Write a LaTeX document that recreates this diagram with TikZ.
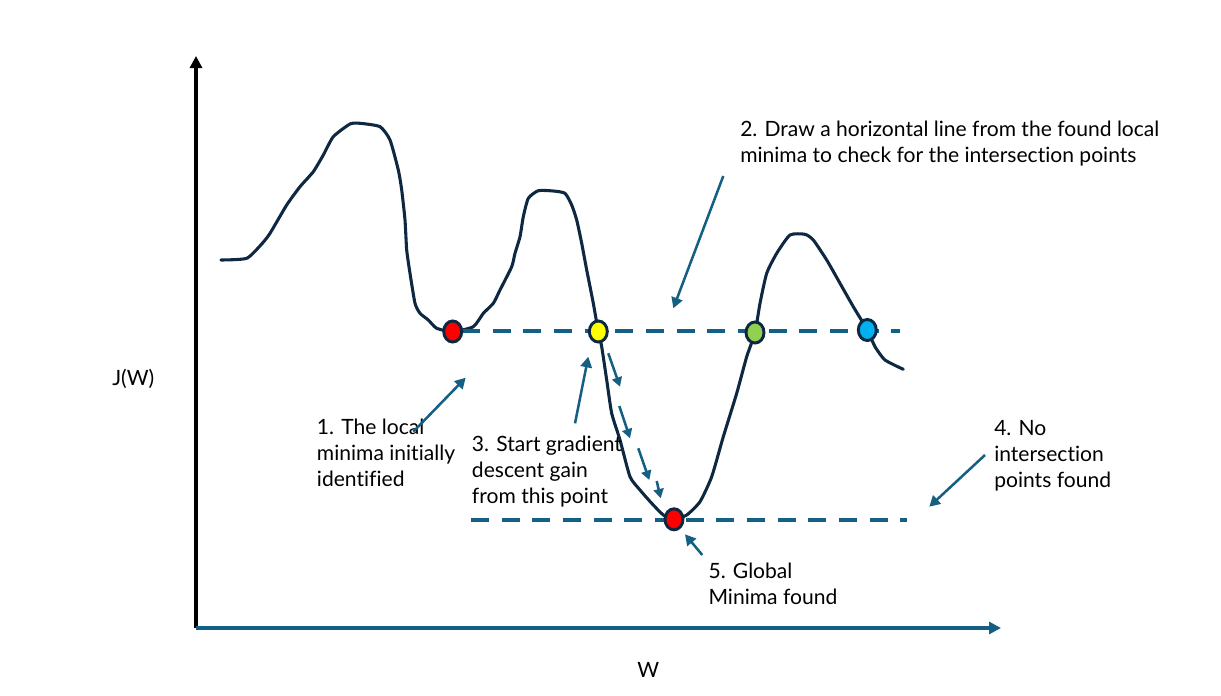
\documentclass[tikz,border=0pt]{standalone}
\usepackage{fontspec}
\setmainfont{Lato}[Ligatures=NoCommon]
\usetikzlibrary{arrows.meta,shapes.geometric}
\definecolor{curvec}{HTML}{0E2841}
\definecolor{acc}{HTML}{156082}
\definecolor{dotred}{HTML}{FF0000}
\definecolor{dotyellow}{HTML}{FFFF00}
\definecolor{dotgreen}{HTML}{92D050}
\definecolor{dotblue}{HTML}{00B0F0}
\begin{document}
\begin{tikzpicture}[x=0.75pt,y=-0.75pt,
  curveline/.style={curvec, line width=2.3pt, line cap=round, line join=round},
  dot/.style={ellipse, draw=curvec, line width=2.2pt, minimum width=13.5pt, minimum height=15.8pt, inner sep=0pt},
  levelline/.style={acc, line width=3pt, dash pattern=on 13.5pt off 9.5pt},
  pointer/.style={acc, line width=1.9pt, -{Triangle[length=8pt,width=8.5pt]}},
  gradarrow/.style={acc, line width=1.9pt, -{Triangle[length=7pt,width=7.5pt]}},
  lbl/.style={font=\fontsize{15.8}{19.3}\selectfont, align=left, anchor=base west, inner sep=0pt, text=black},
]
\useasboundingbox (0,0) rectangle (1221,696);

% axes
\coordinate (origin) at (196,628);
\coordinate (ytop) at (196,56);
\coordinate (xend) at (1001,628);
\draw[black, line width=2.3pt, -{Triangle[length=9pt,width=9pt]}] (origin) -- (ytop);
\draw[acc, line width=2.3pt, -{Triangle[length=9pt,width=9pt]}] (origin) -- (xend);

% curve
\draw[curveline] plot[smooth, tension=0.35] coordinates {
(221,260) (246.7,258.3) (261.7,244) (270,233.3) (286.7,205) (300,186.7) (313.3,171.7) (323.3,155) (333.3,136.7) (350,124) (360,123.3) (380,126.7) (390,140) (398.3,170) (401.7,190) (405,220) (406.7,250) (410,273.3) (415,303.3) (420,313.3) (428.3,320) (436.7,328.3) (452.7,331.7) (473.3,326.7) (483.3,313.3) (493.3,303.3) (500,290) (511.7,266.7) (515,253.3) (520,236.7) (523.3,216.7) (528.3,198.3) (538.3,190.7) (553.3,191) (565,193.3) (571.7,205) (576.7,220) (581.7,243.3) (586.7,270) (593.3,303.3) (598.3,331.7) (601.7,346.7) (606.7,380) (611.7,413.3) (620,440) (630,476.7) (640,490) (651.7,503.3) (663.3,515) (674,519.3) (686.7,515) (700,501.7) (711.7,476.7) (723.3,436.7) (736.7,393.3) (746.7,356.7) (755,332.7) (760,303.3) (766.7,273.3) (776.7,253.3) (790,235) (805,234.3) (813.3,240) (826.7,260) (840,283.3) (853.3,306.7) (867.3,330) (875,346.7) (885,360) (903.3,369.3)};

% level lines
\coordinate (l1a) at (462,331);
\coordinate (l1b) at (900,331);
\coordinate (l2a) at (471,520);
\coordinate (l2b) at (907,520);
\draw[levelline] (l1a) -- (l1b);
\draw[levelline] (l2a) -- (l2b);

% points
\node[dot, fill=dotred] (localmin) at (452.7,331.5) {};
\node[dot, fill=dotyellow] (start) at (598.3,331.5) {};
\node[dot, fill=dotgreen] (inter) at (755,332.5) {};
\node[dot, fill=dotblue] (inter2) at (867.3,330) {};
\node[dot, fill=dotred] (globalmin) at (674,519.3) {};

% gradient steps
\coordinate (g1a) at (608.3,353.3); \coordinate (g1b) at (620,386.7);
\coordinate (g2a) at (619.3,406);   \coordinate (g2b) at (630,438.3);
\coordinate (g3a) at (638.3,448.3); \coordinate (g3b) at (649.3,480);
\coordinate (g4a) at (656.7,481);   \coordinate (g4b) at (660.7,498.3);
\draw[gradarrow] (g1a) -- (g1b);
\draw[gradarrow] (g2a) -- (g2b);
\draw[gradarrow] (g3a) -- (g3b);
\draw[gradarrow] (g4a) -- (g4b);

% labels (base = baseline of last line)
\node[lbl] (ylabel) at (112,385) {J(W)};
\node[lbl] (xlabel) at (637,677) {W};
\node[lbl] (lab1) at (316.7,486) {1. The local\\minima initially\\identified};
\node[lbl] (lab2) at (740,162) {2. Draw a horizontal line from the found local\\minima to check for the intersection points};
\node[lbl] (lab3) at (471.7,503) {3. Start gradient\\descent gain\\from this point};
\node[lbl] (lab4) at (994,487) {4. No\\intersection\\points found};
\node[lbl] (lab5) at (708.3,604) {5. Global\\Minima found};

% label pointers
\coordinate (p1t) at (413.3,431.7); \coordinate (p1h) at (465.7,377.7);
\coordinate (p2t) at (723.3,176);   \coordinate (p2h) at (673.3,308.3);
\coordinate (p3t) at (575,423.3);   \coordinate (p3h) at (588.3,356.7);
\coordinate (p4t) at (985,455);     \coordinate (p4h) at (929.3,506.7);
\coordinate (p5t) at (702.3,555);   \coordinate (p5h) at (685,534.3);
\draw[pointer] (p1t) -- (p1h);
\draw[pointer] (p2t) -- (p2h);
\draw[pointer] (p3t) -- (p3h);
\draw[pointer] (p4t) -- (p4h);
\draw[pointer] (p5t) -- (p5h);
\end{tikzpicture}
\end{document}
